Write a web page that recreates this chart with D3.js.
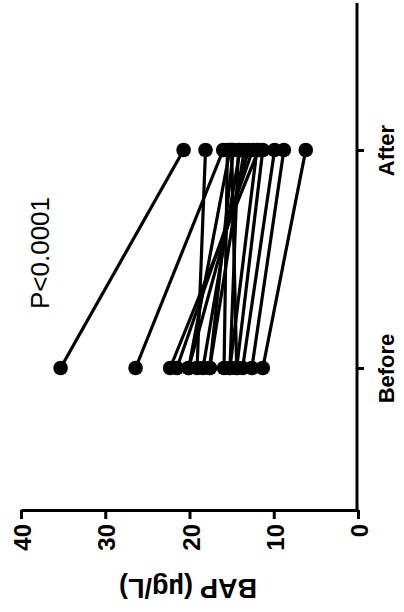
<!DOCTYPE html>
<html>
<head>
<meta charset="utf-8">
<script src="https://cdn.jsdelivr.net/npm/d3@7"></script>
<style>
  html, body { margin: 0; padding: 0; background: #fff; }
  svg { display: block; }
  text { font-family: "Liberation Sans", Arial, sans-serif; fill: #000; }
</style>
</head>
<body>
<svg id="chart" width="404" height="612"></svg>
<script>
// Data (BAP, µg/L) — paired measurements
const categories = ["Before", "After"];
const beforeValues = [35.3, 26.4, 22.3, 21.5, 20.1, 20.1, 19.1, 18.4, 17.6, 17.6, 15.9, 15.2, 15.2, 14.4, 14.4, 13.7, 12.6, 11.3];
const afterValues  = [20.7, 16.0, 11.8, 12.5, 13.0, 15.2, 18.1, 14.0, 14.8, 13.5, 15.5, 12.0, 14.2, 15.0, 11.3, 9.9, 8.8, 6.2];
const valueTicks = [0, 10, 20, 30, 40];
const valueTitle = "BAP (µg/L)";
const pLabel = "P<0.0001";

const svg = d3.select("#chart");

const x = d3.scaleLinear().domain([0, 40]).range([358, 21]);
const y = d3.scalePoint().domain(categories).range([512, 6]).padding(0.6606);

const pairs = beforeValues.map((b, i) => ({ before: b, after: afterValues[i] }));

// lines
svg.append("g").selectAll("line").data(pairs).join("line")
  .attr("x1", d => x(d.before)).attr("y1", y("Before"))
  .attr("x2", d => x(d.after)).attr("y2", y("After"))
  .attr("stroke", "#000").attr("stroke-width", 3.2);

// points
const pts = [];
pairs.forEach(d => { pts.push({ c: "Before", v: d.before }); pts.push({ c: "After", v: d.after }); });
svg.append("g").selectAll("circle").data(pts).join("circle")
  .attr("cx", d => x(d.v)).attr("cy", d => y(d.c)).attr("r", 7.3).attr("fill", "#000");

// value axis (bottom)
const xAxis = svg.append("g").attr("transform", "translate(0,510)")
  .call(d3.axisBottom(x).tickValues(valueTicks).tickSize(9).tickSizeOuter(0).tickFormat(d3.format("d")));
xAxis.select(".domain").attr("stroke-width", 3);
xAxis.selectAll(".tick line").attr("stroke-width", 3);
xAxis.selectAll(".tick text")
  .attr("transform", "translate(1,14) rotate(-90)")
  .attr("x", 0).attr("y", 0).attr("dy", "0.36em")
  .attr("text-anchor", "end")
  .style("font-size", "24px").style("font-weight", "bold");

// category axis (right)
const yAxis = svg.append("g").attr("transform", "translate(357,0)")
  .call(d3.axisRight(y).tickSize(7).tickSizeOuter(0));
yAxis.select(".domain").remove();
yAxis.append("line").attr("x1", 0).attr("x2", 0).attr("y1", 3).attr("y2", 511.5)
  .attr("stroke", "#000").attr("stroke-width", 3);
yAxis.selectAll(".tick line").attr("stroke-width", 3);
yAxis.selectAll(".tick text")
  .attr("transform", "translate(37,0) rotate(-90)")
  .attr("x", 0).attr("y", 0).attr("dy", 0)
  .attr("text-anchor", "middle")
  .style("font-size", "22px").style("font-weight", "bold");

// axis title (upside down)
svg.append("text")
  .attr("transform", "translate(188,579) rotate(180)")
  .attr("text-anchor", "middle")
  .style("font-size", "27px").style("font-weight", "bold")
  .text(valueTitle);

// p-value annotation
svg.append("text")
  .attr("transform", "translate(49,253) rotate(-90)")
  .attr("text-anchor", "middle")
  .style("font-size", "26px")
  .text(pLabel);
</script>
</body>
</html>
